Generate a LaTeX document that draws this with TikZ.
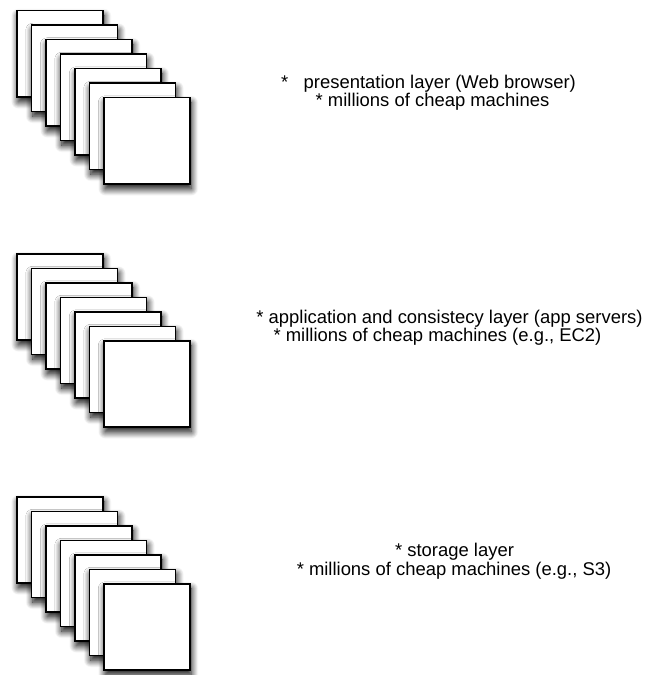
\documentclass[tikz,border=0pt]{standalone}
\usepackage{fontspec}
\setmainfont{Liberation Sans}
\usetikzlibrary{shadows.blur}
\begin{document}
\begin{tikzpicture}[x=1bp,y=-1bp,
  card/.style={draw=black, line width=1.5bp, fill=white, minimum size=86bp, inner sep=0pt, anchor=north west,
    blur shadow={shadow xshift=1.5bp, shadow yshift=-5bp, shadow blur radius=7bp, shadow blur steps=14, shadow opacity=100}},
  lbl/.style={font=\fontsize{18.5}{20}\selectfont, inner sep=0pt, anchor=center}]
\useasboundingbox (0,0) rectangle (671,675);
\foreach \s/\top in {a/10, b/253, c/496} {
  \foreach \i in {0,...,6} {
    \node[card] (\s\i) at ({16+14.5*\i},{\top+14.5*\i}) {};
  }
}
\node[lbl] (a1) at (428.5,84) {*\ \ \ presentation layer (Web browser)};
\node[lbl] (a2) at (432.5,102) {* millions of cheap machines};
\node[lbl] (b1) at (449.5,319) {* application and consistecy layer (app servers)};
\node[lbl] (b2) at (437.5,337) {* millions of cheap machines (e.g., EC2)};
\node[lbl] (c1) at (454.5,552) {* storage layer};
\node[lbl] (c2) at (454,571) {* millions of cheap machines (e.g., S3)};
\end{tikzpicture}
\end{document}
